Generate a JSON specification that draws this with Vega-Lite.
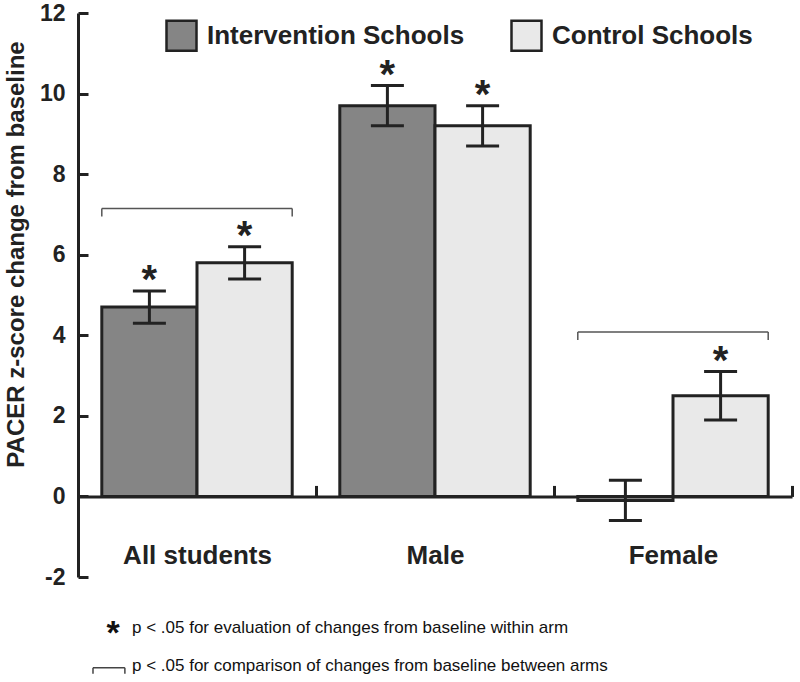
{
  "$schema": "https://vega.github.io/schema/vega-lite/v6.json",
  "width": 714,
  "height": 564,
  "autosize": {"type": "none"},
  "padding": {"left": 78, "top": 13, "right": 8, "bottom": 105},
  "config": {"view": {"stroke": null}, "font": "Liberation Sans"},
  "data": {
    "values": [
      {"group": "All students", "arm": "Intervention Schools", "mean": 4.7, "lo": 4.3, "hi": 5.1, "sig": true},
      {"group": "All students", "arm": "Control Schools", "mean": 5.8, "lo": 5.4, "hi": 6.2, "sig": true},
      {"group": "Male", "arm": "Intervention Schools", "mean": 9.7, "lo": 9.2, "hi": 10.2, "sig": true},
      {"group": "Male", "arm": "Control Schools", "mean": 9.2, "lo": 8.7, "hi": 9.7, "sig": true},
      {"group": "Female", "arm": "Intervention Schools", "mean": -0.1, "lo": -0.6, "hi": 0.4, "sig": false},
      {"group": "Female", "arm": "Control Schools", "mean": 2.5, "lo": 1.9, "hi": 3.1, "sig": true}
    ]
  },
  "encoding": {
    "x": {
      "field": "group",
      "type": "nominal",
      "scale": {"domain": ["All students", "Male", "Female"], "paddingInner": 0, "paddingOuter": 0},
      "axis": {
        "title": null,
        "orient": "bottom",
        "offset": -80.571,
        "tickBand": "extent",
        "tickSize": -11,
        "tickWidth": 3,
        "tickColor": "#222",
        "domainColor": "#222",
        "domainWidth": 3,
        "labelAngle": 0,
        "labelFontSize": 26,
        "labelFontWeight": "bold",
        "labelColor": "#222",
        "labelBaseline": "alphabetic",
        "labelPadding": 78
      }
    }
  },
  "layer": [
    {
      "mark": {"type": "bar", "stroke": "#222", "strokeWidth": 3},
      "encoding": {
        "xOffset": {"field": "arm", "type": "nominal", "scale": {"domain": ["Intervention Schools", "Control Schools"], "paddingOuter": 0.25, "paddingInner": 0}},
        "y": {
          "field": "mean",
          "type": "quantitative",
          "scale": {"domain": [-2, 12], "nice": false, "zero": false},
          "axis": {
            "values": [-2, 0, 2, 4, 6, 8, 10, 12],
            "labelExpr": "'' + datum.value",
            "grid": false,
            "tickSize": -10,
            "tickWidth": 3,
            "tickColor": "#222",
            "domainColor": "#222",
            "domainWidth": 3,
            "labelFontSize": 23,
            "labelFontWeight": "bold",
            "labelColor": "#222",
            "labelPadding": 23,
            "title": "PACER z-score change from baseline",
            "titleFontSize": 24,
            "titleFontWeight": "bold",
            "titleColor": "#222",
            "titleX": -62,
            "titleY": 241,
            "titleAngle": -90,
            "titleAlign": "center",
            "titleBaseline": "middle"
          }
        },
        "color": {
          "field": "arm",
          "type": "nominal",
          "scale": {"domain": ["Intervention Schools", "Control Schools"], "range": ["#858585", "#e9e9e9"]},
          "legend": {
            "title": null,
            "orient": "none",
            "legendX": 87,
            "legendY": 6,
            "direction": "horizontal",
            "symbolType": "square",
            "symbolSize": 900,
            "symbolStrokeColor": "#222",
            "symbolStrokeWidth": 2.5,
            "symbolOpacity": 1,
            "labelFontSize": 26,
            "labelFontWeight": "bold",
            "labelColor": "#222",
            "labelOffset": 9,
            "labelLimit": 400,
            "columnPadding": 41
          }
        }
      }
    },
    {
      "mark": {"type": "rule", "color": "#222", "strokeWidth": 3},
      "encoding": {
        "xOffset": {"field": "arm", "type": "nominal", "scale": {"domain": ["Intervention Schools", "Control Schools"], "paddingOuter": 0.25, "paddingInner": 0}},
        "y": {"field": "lo", "type": "quantitative"},
        "y2": {"field": "hi"}
      }
    },
    {
      "mark": {"type": "tick", "color": "#222", "size": 33, "thickness": 3, "opacity": 1},
      "encoding": {
        "xOffset": {"field": "arm", "type": "nominal", "scale": {"domain": ["Intervention Schools", "Control Schools"], "paddingOuter": 0.25, "paddingInner": 0}},
        "y": {"field": "lo", "type": "quantitative"}
      }
    },
    {
      "mark": {"type": "tick", "color": "#222", "size": 33, "thickness": 3, "opacity": 1},
      "encoding": {
        "xOffset": {"field": "arm", "type": "nominal", "scale": {"domain": ["Intervention Schools", "Control Schools"], "paddingOuter": 0.25, "paddingInner": 0}},
        "y": {"field": "hi", "type": "quantitative"}
      }
    },
    {
      "transform": [{"filter": "datum.sig"}],
      "mark": {"type": "text", "text": "*", "fontSize": 40, "fontWeight": "bold", "color": "#222", "baseline": "alphabetic", "align": "center", "dy": 2},
      "encoding": {
        "xOffset": {"field": "arm", "type": "nominal", "scale": {"domain": ["Intervention Schools", "Control Schools"], "paddingOuter": 0.25, "paddingInner": 0}},
        "y": {"field": "hi", "type": "quantitative"}
      }
    },
    {
      "data": {"values": [
        {"group": "All students", "top": 7.15, "leg": 6.95},
        {"group": "Female", "top": 4.08, "leg": 3.88}
      ]},
      "layer": [
        {
          "mark": {"type": "rule", "color": "#555", "strokeWidth": 1.5},
          "encoding": {
            "x": {"field": "group", "type": "nominal", "bandPosition": 0.1},
            "x2": {"field": "group", "bandPosition": 0.9},
            "y": {"field": "top", "type": "quantitative"}
          }
        },
        {
          "mark": {"type": "rule", "color": "#555", "strokeWidth": 1.5},
          "encoding": {
            "x": {"field": "group", "type": "nominal", "bandPosition": 0.1},
            "y": {"field": "top", "type": "quantitative"},
            "y2": {"field": "leg"}
          }
        },
        {
          "mark": {"type": "rule", "color": "#555", "strokeWidth": 1.5},
          "encoding": {
            "x": {"field": "group", "type": "nominal", "bandPosition": 0.9},
            "y": {"field": "top", "type": "quantitative"},
            "y2": {"field": "leg"}
          }
        }
      ]
    },
    {
      "data": {"values": [{"group": "All students", "top": -4.25, "leg": -4.4}]},
      "layer": [
        {
          "mark": {"type": "rule", "color": "#444", "strokeWidth": 1.5},
          "encoding": {
            "x": {"field": "group", "type": "nominal", "bandPosition": 0.063},
            "x2": {"field": "group", "bandPosition": 0.197},
            "y": {"field": "top", "type": "quantitative"}
          }
        },
        {
          "mark": {"type": "rule", "color": "#444", "strokeWidth": 1.5},
          "encoding": {
            "x": {"field": "group", "type": "nominal", "bandPosition": 0.063},
            "y": {"field": "top", "type": "quantitative"},
            "y2": {"field": "leg"}
          }
        },
        {
          "mark": {"type": "rule", "color": "#444", "strokeWidth": 1.5},
          "encoding": {
            "x": {"field": "group", "type": "nominal", "bandPosition": 0.197},
            "y": {"field": "top", "type": "quantitative"},
            "y2": {"field": "leg"}
          }
        }
      ]
    },
    {
      "data": {"values": [{"note": "p < .05 for evaluation of changes from baseline within arm"}]},
      "layer": [
        {
          "mark": {"type": "text", "text": "*", "fontSize": 34, "fontWeight": "bold", "color": "#111", "align": "center", "baseline": "alphabetic", "dx": -84, "dy": 16},
          "encoding": {"x": {"datum": "All students"}, "y": {"datum": -3.26}}
        },
        {
          "mark": {"type": "text", "fontSize": 17, "color": "#111", "align": "left", "baseline": "middle", "dx": -65},
          "encoding": {"x": {"datum": "All students"}, "y": {"datum": -3.26}, "text": {"field": "note"}}
        }
      ]
    },
    {
      "data": {"values": [{"note": "p < .05 for comparison of changes from baseline between arms"}]},
      "layer": [
        {
          "mark": {"type": "text", "fontSize": 17, "color": "#111", "align": "left", "baseline": "middle", "dx": -65},
          "encoding": {"x": {"datum": "All students"}, "y": {"datum": -4.22}, "text": {"field": "note"}}
        }
      ]
    }
  ]
}
